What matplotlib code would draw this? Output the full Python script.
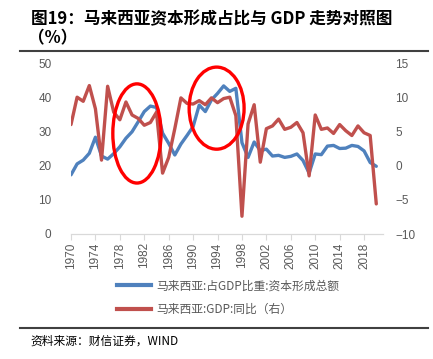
import numpy as np
import matplotlib
matplotlib.use('Agg')
import matplotlib.pyplot as plt
from matplotlib.patches import Ellipse

plt.rcParams['font.family'] = ['Noto Sans CJK SC', 'DejaVu Sans']

years = list(range(1970, 2021))
# 马来西亚:占GDP比重:资本形成总额 (%)
capital_share = [17.3, 20.5, 21.6, 23.6, 28.3, 22.8, 21.9, 23.5, 25.5, 28.0,
                 29.9, 32.8, 35.8, 37.4, 37.0, 29.5, 26.5, 23.1, 26.3, 28.8,
                 31.4, 37.7, 35.8, 39.2, 41.1, 43.3, 41.7, 42.6, 26.7, 22.4,
                 26.9, 24.4, 24.8, 22.8, 23.0, 22.4, 22.7, 23.4, 21.5, 17.8,
                 23.4, 23.2, 25.7, 25.9, 25.0, 25.1, 25.9, 25.6, 24.3, 20.9,
                 19.8]
# 马来西亚:GDP:同比 (%)
gdp_yoy = [6.0, 10.0, 9.4, 11.7, 8.3, 0.8, 11.6, 7.8, 6.7, 9.3,
           7.4, 6.9, 5.9, 6.3, 7.8, -1.1, 1.2, 5.4, 9.9, 9.1,
           9.0, 9.5, 8.9, 9.9, 9.2, 9.8, 10.0, 7.3, -7.4, 6.1,
           8.9, 0.5, 5.4, 5.8, 6.8, 5.3, 5.6, 6.3, 4.8, -1.5,
           7.4, 5.3, 5.5, 4.7, 6.0, 5.1, 4.4, 5.8, 4.8, 4.4,
           -5.6]
tick_years = list(range(1970, 2019, 4))
left_ticks = [0, 10, 20, 30, 40, 50]
right_ticks = [-10, -5, 0, 5, 10, 15]

# highlighted periods (centre year, centre value on left axis, width yrs, height)
circles = [(1980.8, 29.4, 7.9, 29.0), (1993.85, 36.8, 9.0, 24.0)]

blue = '#4F81BD'
red = '#C0504D'
grey = '#595959'

W, H = 433, 359
fig = plt.figure(figsize=(W / 100, H / 100), dpi=100)

ax1 = fig.add_axes([71 / W, 1 - 234 / H, (383 - 71) / W, (234 - 63) / H])
ax2 = ax1.twinx()

ax1.plot(years, capital_share, color=blue, lw=2.4, solid_capstyle='round')
ax2.plot(years, gdp_yoy, color=red, lw=2.4, solid_capstyle='round')

ax1.set_xlim(1970, 2021.1)
ax1.set_ylim(0, 50)
ax2.set_ylim(-10, 15)
ax1.set_yticks(left_ticks)
ax2.set_yticks(right_ticks)
ax1.set_xticks(tick_years)
ax1.set_xticklabels([str(y) for y in tick_years], rotation=90)

for ax in (ax1, ax2):
    for s in ('top', 'left', 'right'):
        ax.spines[s].set_visible(False)
    ax.spines['bottom'].set_color('#D9D9D9')
    ax.tick_params(axis='y', length=0, labelsize=8.5, labelcolor=grey)
ax1.tick_params(axis='y', pad=14)
ax2.tick_params(axis='y', pad=9)
ax1.tick_params(axis='x', length=4, color='#D9D9D9', labelsize=8.5,
                labelcolor=grey, pad=2)
for lab in ax1.get_xticklabels() + ax1.get_yticklabels() + ax2.get_yticklabels():
    lab.set_family(['Liberation Sans', 'DejaVu Sans'])

for cx, cy, w, h in circles:
    ax2.add_patch(Ellipse((cx, cy), w, h, transform=ax1.transData,
                          fill=False, edgecolor='#FF0000', lw=2.4,
                          clip_on=False, zorder=5))

# legend
l1, = ax1.plot([], [], color=blue, lw=3)
l2, = ax1.plot([], [], color=red, lw=3)
fig.legend([l1, l2], ['马来西亚:占GDP比重:资本形成总额', '马来西亚:GDP:同比（右）'],
           loc='upper left', bbox_to_anchor=(106 / W, 1 - 269 / H),
           frameon=False, fontsize=8.5, labelcolor=grey, handlelength=2.9,
           labelspacing=0.9, handletextpad=0.5)

fig.text(31 / W, 1 - 24 / H, '图19：马来西亚资本形成占比与 GDP 走势对照图',
         fontsize=12, fontweight='bold', color='black')
fig.text(28 / W, 1 - 43 / H, '（%）', fontsize=12, fontweight='bold',
         color='black')

fig.add_artist(plt.Line2D([20 / W, 428 / W], [1 - 51 / H, 1 - 51 / H],
                          color='#404040', lw=1.5))
fig.add_artist(plt.Line2D([20 / W, 428 / W], [1 - 328 / H, 1 - 328 / H],
                          color='#404040', lw=1.5))
fig.text(30 / W, 1 - 345 / H, '资料来源：财信证券，WIND', fontsize=8.5,
         style='italic', color='black')

fig.savefig('out.png', dpi=100)
